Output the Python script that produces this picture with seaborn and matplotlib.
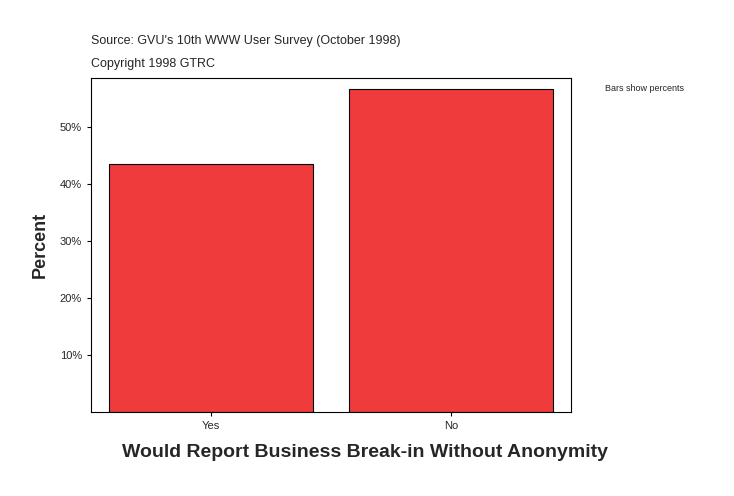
import matplotlib
matplotlib.use('Agg')
import matplotlib.pyplot as plt
import matplotlib.ticker as mticker
import seaborn as sns

categories = ['Yes', 'No']
percents = [43.4, 56.5]

sns.set_style('white')
plt.rcParams['font.family'] = ['Liberation Sans', 'DejaVu Sans']

fig = plt.figure(figsize=(7.34, 4.96), dpi=100)
ax = fig.add_axes([91/734, 84/496, 480/734, 334/496])

sns.barplot(x=categories, y=percents, color='#ef3b3b', width=0.85,
            edgecolor='black', linewidth=0.8, saturation=1, ax=ax)

ax.set_xlim(-0.5, 1.5)
ax.set_ylim(0, 58.5)
ax.set_yticks([10, 20, 30, 40, 50])
ax.yaxis.set_major_formatter(mticker.FuncFormatter(lambda v, p: f'{int(v)}%'))
ax.tick_params(axis='both', labelsize=8, length=3, color='black', left=True, bottom=True)
for s in ax.spines.values():
    s.set_color('black')
    s.set_linewidth(0.8)

ax.set_ylabel('Percent', fontsize=13, fontweight='bold', labelpad=8)
ax.set_xlabel('Would Report Business Break-in Without Anonymity', fontsize=14,
              fontweight='bold', labelpad=6)
ax.xaxis.set_label_coords(0.57, -0.095)

fig.text(91/734, 1 - 41/496, "Source: GVU's 10th WWW User Survey (October 1998)",
         fontsize=9, va='center')
fig.text(91/734, 1 - 64/496, 'Copyright 1998 GTRC', fontsize=9, va='center')
fig.text(605/734, 1 - 88/496, 'Bars show percents', fontsize=6.5, va='center')

fig.savefig('out.png', dpi=100, facecolor='white')
